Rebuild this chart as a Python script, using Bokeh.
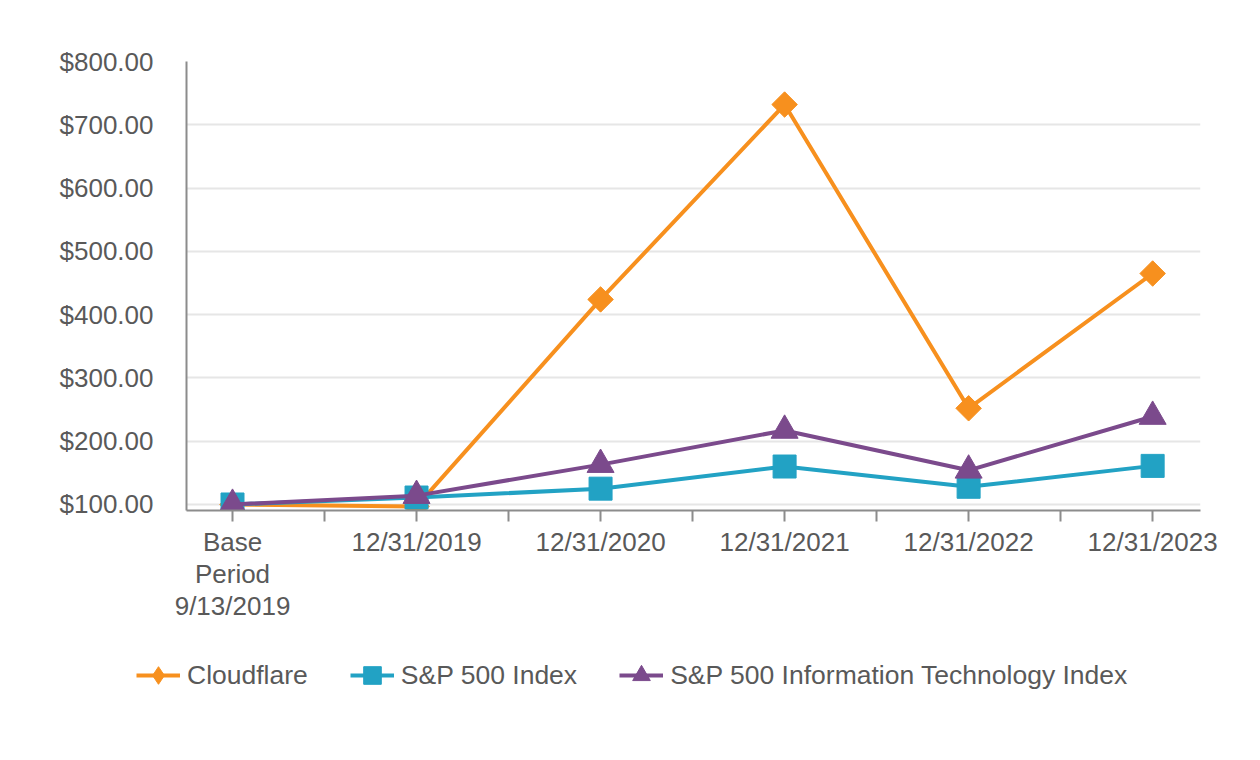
import math
from bokeh.plotting import figure
from bokeh.layouts import column, row
from bokeh.models import FixedTicker, NumeralTickFormatter, Legend, LegendItem, Range1d
from bokeh.embed import file_html
from bokeh.resources import INLINE

categories = ["Base\nPeriod\n9/13/2019", "12/31/2019", "12/31/2020",
              "12/31/2021", "12/31/2022", "12/31/2023"]
cloudflare = [100, 97, 424, 732, 252, 465]
sp500 = [100, 111, 125, 160, 128, 161]
sp500_it = [100, 114, 163, 217, 154, 239]
y_ticks = [100, 200, 300, 400, 500, 600, 700, 800]
series_names = ["Cloudflare", "S&P 500 Index", "S&P 500 Information Technology Index"]

ORANGE = "#F7901E"
TEAL = "#22A2C4"
PURPLE = "#7B4A8C"
TEXT = "#595959"
FONT = "Liberation Sans"

x = list(range(len(categories)))

p = figure(frame_width=1014, frame_height=449, output_backend="svg", toolbar_location=None,
           x_range=Range1d(-0.25, 5.26), y_range=Range1d(90.5, 800),
           min_border_left=186, min_border_right=52, min_border_top=61,
           min_border_bottom=120)
p.outline_line_color = None
p.background_fill_color = "white"
p.border_fill_color = "white"

p.xgrid.visible = False
p.ygrid.ticker = FixedTicker(ticks=y_ticks)
p.ygrid.grid_line_color = "#E6E6E6"
p.ygrid.grid_line_width = 2

# y axis
p.yaxis.ticker = FixedTicker(ticks=y_ticks)
p.yaxis.formatter = NumeralTickFormatter(format="$0.00")
p.yaxis.major_tick_line_color = None
p.yaxis.minor_tick_line_color = None
p.yaxis.axis_line_color = "#8C8C8C"
p.yaxis.axis_line_width = 2
p.yaxis.major_label_standoff = 27
p.yaxis.major_label_text_font = FONT
p.yaxis.major_label_text_font_size = "26px"
p.yaxis.major_label_text_color = TEXT

# x axis
p.xaxis.ticker = FixedTicker(ticks=x, minor_ticks=[0.5, 1.5, 2.5, 3.5, 4.5])
p.xaxis.major_label_overrides = {i: c for i, c in zip(x, categories)}
p.xaxis.axis_line_color = "#8C8C8C"
p.xaxis.axis_line_width = 2
p.xaxis.major_tick_line_color = "#8C8C8C"
p.xaxis.major_tick_line_width = 2
p.xaxis.major_tick_in = 0
p.xaxis.major_tick_out = 11
p.xaxis.minor_tick_line_color = "#8C8C8C"
p.xaxis.minor_tick_line_width = 2
p.xaxis.minor_tick_in = 0
p.xaxis.minor_tick_out = 11
p.xaxis.major_label_standoff = 5
p.xaxis.major_label_text_font = FONT
p.xaxis.major_label_text_font_size = "26px"
p.xaxis.major_label_text_line_height = 1.07
p.xaxis.major_label_text_color = TEXT

series = [cloudflare, sp500, sp500_it]
styles = [
    (ORANGE, dict(marker="square", angle=math.pi / 4, size=18)),
    (TEAL, dict(marker="square", size=23)),
    (PURPLE, dict(marker="triangle", size=27)),
]
for vals, (col, mk) in zip(series, styles):
    p.line(x, vals, line_color=col, line_width=4)
    p.scatter(x, vals, fill_color=col, line_color=col, **mk)

# legend strip below the chart (its renderers lie outside its view; only the legend shows)
lg = figure(width=1252, height=110, output_backend="svg", toolbar_location=None,
            x_range=Range1d(-0.25, 5.26), y_range=Range1d(0, 1),
            x_axis_type=None, y_axis_type=None,
            min_border_left=0, min_border_right=0, min_border_top=0, min_border_bottom=0)
lg.outline_line_color = None
lg.grid.visible = False

legend_markers = ["diamond", "square", "triangle"]
items = []
for name, vals, (col, mk), lm in zip(series_names, series, styles, legend_markers):
    ln = lg.line(x, vals, line_color=col, line_width=4)
    sc = lg.scatter(x, vals, marker=lm, fill_color=col, line_color=col)
    items.append(LegendItem(label=name, renderers=[ln, sc]))

legend = Legend(items=items, orientation="horizontal", location=(136, 38))
legend.border_line_color = None
legend.background_fill_alpha = 0
legend.label_text_font = FONT
legend.label_text_font_size = "26.5px"
legend.label_text_color = TEXT
legend.glyph_width = 44
legend.glyph_height = 54
legend.label_standoff = 7
legend.spacing = 42
legend.margin = 0
legend.padding = 0
lg.add_layout(legend, "center")

page = column(p, row(lg), spacing=0)
open("out.html", "w").write(file_html(page, INLINE))
